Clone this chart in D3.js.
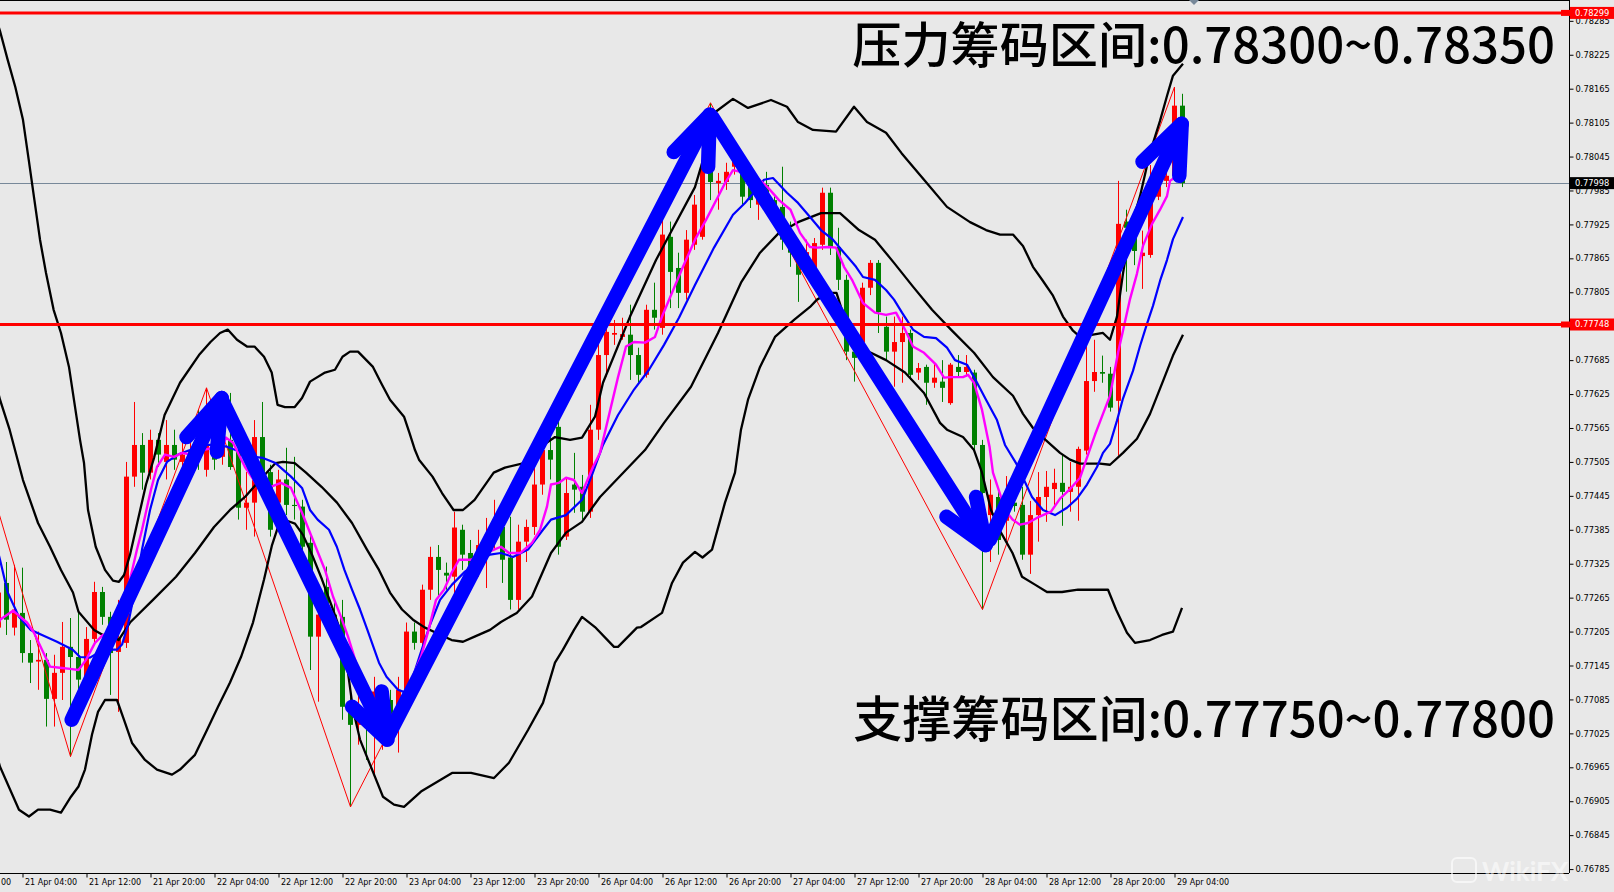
<!DOCTYPE html>
<html><head><meta charset="utf-8">
<script src="https://cdn.jsdelivr.net/npm/d3@7"></script>
<style>
html,body{margin:0;padding:0;background:#e8e8e8;overflow:hidden}
svg{display:block}
</style></head><body>
<svg id="c" width="1614" height="892"></svg>
<script>
// ---------------- DATA (H1 bars, bar index 0 = 21 Apr 04:00) ----------------
const firstBar = -3;
const opens = [
0.77212,0.77291,0.77212,0.77238,0.77167,0.77152,0.77155,0.77086,0.77132,0.77178,
0.77160,0.77120,0.77192,0.77275,0.77231,0.77169,0.77185,0.77479,0.77535,0.77486,
0.77544,0.77505,0.77535,0.77505,0.77512,0.77526,0.77491,0.77539,0.77514,0.77544,
0.77526,0.77424,0.77433,0.77549,0.77487,0.77433,0.77474,0.77429,0.77426,0.77362,
0.77196,0.77284,0.77235,0.77231,0.77075,0.77040,0.77067,0.77031,0.77049,0.77084,
0.77058,0.77102,0.77205,0.77185,0.77279,0.77337,0.77309,0.77302,0.77385,0.77344,
0.77314,0.77341,0.77367,0.77390,0.77336,0.77261,0.77364,0.77390,0.77465,0.77526,
0.77567,0.77373,0.77465,0.77461,0.77417,0.77562,0.77694,0.77730,0.77726,0.77730,
0.77694,0.77659,0.77774,0.77742,0.77903,0.77848,0.77804,0.77889,0.77903,0.78027,
0.77998,0.78000,0.78027,0.78016,0.78004,0.77960,0.77995,0.77968,0.77956,0.77910,
0.77875,0.77857,0.77848,0.77889,0.77981,0.77885,0.77827,0.77700,0.77716,0.77813,
0.77857,0.77744,0.77700,0.77717,0.77733,0.77663,0.77673,0.77645,0.77647,0.77609,
0.77673,0.77664,0.77663,0.77535,0.77411,0.77443,0.77401,0.77433,0.77429,0.77341,
0.77411,0.77443,0.77457,0.77468,0.77452,0.77461,0.77525,0.77648,0.77664,0.77661,
0.77613,0.77930,0.77926,0.77869,0.77871,0.77974,0.78002,0.78011,0.78135];
const highs = [
0.77288,0.77328,0.77323,0.77318,0.77190,0.77205,0.77167,0.77164,0.77222,0.77229,
0.77244,0.77213,0.77293,0.77284,0.77240,0.77261,0.77505,0.77611,0.77556,0.77562,
0.77556,0.77579,0.77562,0.77544,0.77562,0.77597,0.77636,0.77620,0.77562,0.77627,
0.77544,0.77487,0.77579,0.77611,0.77500,0.77491,0.77530,0.77514,0.77438,0.77376,
0.77261,0.77320,0.77261,0.77261,0.77102,0.77102,0.77084,0.77125,0.77102,0.77102,
0.77125,0.77221,0.77221,0.77288,0.77355,0.77358,0.77327,0.77417,0.77394,0.77367,
0.77385,0.77406,0.77438,0.77411,0.77408,0.77394,0.77403,0.77500,0.77544,0.77562,
0.77579,0.77477,0.77521,0.77482,0.77606,0.77726,0.77762,0.77756,0.77760,0.77783,
0.77707,0.77783,0.77822,0.77933,0.77930,0.77875,0.77915,0.77977,0.78057,0.78140,
0.78016,0.78034,0.78057,0.78039,0.78016,0.77981,0.78018,0.77977,0.78027,0.77930,
0.77898,0.77898,0.77901,0.77990,0.77990,0.77919,0.77836,0.77721,0.77822,0.77862,
0.77862,0.77762,0.77762,0.77762,0.77739,0.77680,0.77677,0.77680,0.77685,0.77680,
0.77694,0.77694,0.77668,0.77544,0.77474,0.77456,0.77480,0.77461,0.77461,0.77436,
0.77487,0.77489,0.77493,0.77518,0.77505,0.77532,0.77719,0.77721,0.77693,0.77673,
0.78002,0.77951,0.77951,0.77914,0.78030,0.78034,0.78071,0.78168,0.78156];
const lows = [
0.77205,0.77199,0.77198,0.77150,0.77114,0.77102,0.77037,0.77037,0.77084,0.76984,
0.77084,0.77102,0.77182,0.77217,0.77093,0.77063,0.77176,0.77461,0.77456,0.77474,
0.77496,0.77474,0.77491,0.77479,0.77491,0.77491,0.77479,0.77491,0.77500,0.77491,
0.77403,0.77385,0.77373,0.77474,0.77373,0.77420,0.77411,0.77403,0.77332,0.77137,
0.77081,0.77208,0.77190,0.77049,0.76895,0.77005,0.76978,0.76948,0.76996,0.77023,
0.76991,0.77084,0.77173,0.77173,0.77261,0.77267,0.77279,0.77261,0.77314,0.77288,
0.77302,0.77282,0.77350,0.77291,0.77244,0.77244,0.77328,0.77376,0.77447,0.77474,
0.77341,0.77367,0.77415,0.77403,0.77406,0.77544,0.77656,0.77712,0.77721,0.77650,
0.77645,0.77654,0.77739,0.77730,0.77777,0.77777,0.77792,0.77880,0.77898,0.77968,
0.77951,0.77986,0.78013,0.77960,0.77954,0.77933,0.77951,0.77924,0.77880,0.77850,
0.77788,0.77845,0.77827,0.77880,0.77871,0.77809,0.77685,0.77647,0.77703,0.77800,
0.77733,0.77685,0.77638,0.77645,0.77650,0.77650,0.77606,0.77636,0.77611,0.77606,
0.77656,0.77656,0.77526,0.77244,0.77328,0.77341,0.77367,0.77417,0.77332,0.77307,
0.77364,0.77399,0.77429,0.77392,0.77417,0.77401,0.77518,0.77629,0.77645,0.77594,
0.77516,0.77806,0.77853,0.77811,0.77866,0.77968,0.77991,0.78004,0.77991];
const closes = [
0.77274,0.77226,0.77244,0.77167,0.77150,0.77155,0.77086,0.77132,0.77178,0.77160,
0.77120,0.77192,0.77275,0.77231,0.77167,0.77194,0.77479,0.77535,0.77486,0.77544,
0.77518,0.77535,0.77509,0.77518,0.77526,0.77518,0.77535,0.77509,0.77533,0.77496,
0.77424,0.77433,0.77549,0.77487,0.77385,0.77474,0.77429,0.77427,0.77355,0.77196,
0.77235,0.77229,0.77226,0.77072,0.77040,0.77067,0.77035,0.77099,0.77084,0.77058,
0.77102,0.77205,0.77185,0.77279,0.77337,0.77314,0.77304,0.77389,0.77341,0.77314,
0.77358,0.77376,0.77403,0.77332,0.77261,0.77364,0.77390,0.77465,0.77526,0.77509,
0.77355,0.77450,0.77456,0.77417,0.77562,0.77694,0.77735,0.77733,0.77731,0.77694,
0.77659,0.77774,0.77760,0.77907,0.77841,0.77804,0.77898,0.77960,0.78027,0.78000,
0.78002,0.78018,0.78044,0.77974,0.77968,0.77970,0.77968,0.77933,0.77898,0.77875,
0.77836,0.77876,0.77892,0.77981,0.77885,0.77827,0.77700,0.77689,0.77813,0.77857,
0.77770,0.77700,0.77717,0.77733,0.77659,0.77671,0.77645,0.77654,0.77636,0.77677,
0.77664,0.77673,0.77535,0.77450,0.77447,0.77367,0.77417,0.77427,0.77341,0.77411,
0.77443,0.77461,0.77468,0.77452,0.77461,0.77528,0.77648,0.77664,0.77661,0.77601,
0.77926,0.77919,0.77878,0.77875,0.77967,0.78004,0.78011,0.78135,0.77998];

// Bollinger bands (black): [barIndex, price]
const upperBand = [[-3.06,0.78278],[-2.81,0.78267],[-1.85,0.78216],[-0.9,0.78168],[0.06,0.78110],[0.78,0.78039],[1.49,0.77968],[2.19,0.77898],[2.94,0.77839],[3.89,0.77774],[4.81,0.77733],[5.81,0.77673],[6.75,0.77585],[7.19,0.77544],[7.69,0.77503],[8.19,0.77420],[9.15,0.77355],[10.31,0.77314],[11.31,0.77295],[12.06,0.77293],[12.69,0.77305],[13.44,0.77341],[14.44,0.77403],[15.44,0.77465],[16.44,0.77512],[17.76,0.77588],[19.69,0.77645],[22.06,0.77694],[23.5,0.77717],[24.69,0.77733],[25.65,0.77739],[26.81,0.77721],[28.06,0.77709],[29,0.77709],[30.19,0.77691],[31.15,0.77663],[31.88,0.77606],[32.81,0.77602],[34.03,0.77602],[34.94,0.77618],[35.94,0.77647],[37.81,0.77663],[39.06,0.77668],[40,0.77691],[40.94,0.77700],[41.94,0.77700],[43.81,0.77673],[44.81,0.77645],[45.94,0.77615],[47.69,0.77585],[48.38,0.77556],[49.06,0.77526],[49.56,0.77509],[51.25,0.77479],[52.44,0.77450],[53.88,0.77420],[55.06,0.77420],[56.51,0.77438],[58.9,0.77486],[60.31,0.77495],[62.69,0.77503],[64.19,0.77526],[66.56,0.77549],[68.44,0.77544],[69.94,0.77548],[71.56,0.77585],[72.56,0.77645],[75.94,0.77762],[79.19,0.77862],[81.19,0.77915],[84.06,0.77991],[85.44,0.78057],[86.44,0.78122],[88.81,0.78147],[90.69,0.78131],[93.56,0.78145],[95.56,0.78133],[96.94,0.78106],[98.81,0.78092],[101.69,0.78089],[103.94,0.78133],[105.56,0.78106],[107.94,0.78087],[109.88,0.78051],[112.69,0.78004],[115.56,0.77956],[118.44,0.77929],[120.44,0.77915],[122.19,0.77907],[123.81,0.77907],[125.06,0.77887],[126.31,0.77850],[127.56,0.77825],[128.81,0.77799],[130.06,0.77762],[131.31,0.77737],[132.19,0.77726],[133.81,0.77730],[135.06,0.77733],[135.94,0.77721],[136.81,0.77762],[137.56,0.77838],[138.44,0.77914],[139.69,0.77975],[140.94,0.78052],[142.19,0.78108],[143.06,0.78152],[143.81,0.78188],[145.06,0.78209]];
const middleBand = [[-3.06,0.77629],[-2.81,0.77615],[-1.61,0.77562],[0.06,0.77473],[1.94,0.77397],[3.44,0.77355],[4.81,0.77314],[6.31,0.77274],[7,0.77240],[8.94,0.77208],[10.06,0.77199],[11.56,0.77194],[12.01,0.77190],[13.44,0.77221],[16.31,0.77261],[19.19,0.77302],[21.56,0.77344],[23.94,0.77390],[25.94,0.77420],[27.81,0.77443],[29.69,0.77473],[31.63,0.77503],[32.56,0.77505],[34.03,0.77503],[35.44,0.77486],[37.38,0.77461],[39.31,0.77433],[41.19,0.77397],[43.06,0.77350],[44.56,0.77314],[45.94,0.77274],[47.44,0.77244],[48.81,0.77226],[50.31,0.77212],[51.69,0.77203],[53.64,0.77190],[55.06,0.77187],[56.51,0.77196],[58.44,0.77208],[59.81,0.77222],[61.78,0.77238],[63.69,0.77267],[66.06,0.77344],[67.94,0.77380],[69.94,0.77399],[71.31,0.77426],[72.19,0.77443],[77.81,0.77526],[80.19,0.77574],[83.56,0.77638],[86.94,0.77733],[89.81,0.77822],[92.19,0.77875],[94.56,0.77910],[96.94,0.77929],[99.81,0.77945],[102.19,0.77945],[104.56,0.77915],[106.56,0.77898],[108.94,0.77857],[111.31,0.77815],[113.69,0.77774],[116.06,0.77739],[118.94,0.77698],[121.31,0.77655],[123.81,0.77622],[125.06,0.77590],[126.31,0.77565],[127.56,0.77548],[129.69,0.77521],[130.94,0.77509],[132.19,0.77502],[134.69,0.77502],[135.94,0.77500],[137.56,0.77521],[139.31,0.77546],[140.94,0.77590],[142.56,0.77648],[143.81,0.77693],[145.06,0.77730]];
const lowerBand = [[-3.06,0.76978],[-2.81,0.76966],[-0.44,0.76890],[0.81,0.76878],[1.94,0.76890],[3.44,0.76890],[4.81,0.76885],[6.06,0.76913],[7,0.76931],[7.81,0.76961],[8.69,0.77023],[9.44,0.77063],[10.31,0.77084],[11.81,0.77084],[12.69,0.77049],[13.69,0.77008],[15.31,0.76978],[16.81,0.76961],[18.69,0.76952],[19.69,0.76961],[21.56,0.76987],[23.06,0.77031],[24.44,0.77072],[25.94,0.77115],[27.31,0.77160],[28.81,0.77221],[30.19,0.77297],[31.19,0.77358],[31.94,0.77390],[33.06,0.77401],[34.06,0.77396],[35.06,0.77376],[36.19,0.77341],[37.44,0.77297],[38.81,0.77244],[39.69,0.77208],[40.56,0.77146],[41.31,0.77067],[42.19,0.77014],[44.06,0.76948],[45.06,0.76913],[46.44,0.76899],[47.69,0.76895],[49.81,0.76922],[53.69,0.76955],[56.06,0.76955],[58.94,0.76946],[60.81,0.76973],[63.19,0.77031],[65.06,0.77079],[66.56,0.77150],[67.56,0.77173],[68.94,0.77208],[69.94,0.77231],[71.56,0.77213],[73.94,0.77178],[74.44,0.77178],[76.81,0.77212],[77.31,0.77213],[79.94,0.77238],[81.19,0.77291],[82.56,0.77327],[84.06,0.77346],[85,0.77336],[86.19,0.77350],[87.81,0.77433],[89.06,0.77486],[89.81,0.77562],[90.69,0.77615],[92.19,0.77673],[94.06,0.77726],[96.44,0.77756],[98.44,0.77779],[99.31,0.77792],[100.81,0.77804],[101.75,0.77804],[102.69,0.77762],[104.13,0.77709],[106.06,0.77698],[107.94,0.77685],[110.31,0.77663],[112.69,0.77627],[114.69,0.77574],[115.56,0.77562],[117.56,0.77549],[118.94,0.77526],[119.94,0.77486],[121.06,0.77420],[122.31,0.77380],[123.75,0.77344],[124.94,0.77302],[126.56,0.77288],[128.06,0.77275],[129.94,0.77275],[131.94,0.77279],[135.69,0.77279],[136.69,0.77244],[138.06,0.77203],[139.06,0.77185],[140.94,0.77190],[142.44,0.77199],[143.81,0.77205],[144.94,0.77247]];
// moving averages: magenta (fast) and blue (slow)
const maFast = [[-3.06,0.77217],[-2.81,0.77226],[-1.19,0.77242],[0.56,0.77221],[1.44,0.77203],[2.44,0.77173],[3.44,0.77143],[4.69,0.77141],[5.94,0.77139],[7,0.77137],[7.94,0.77155],[9.06,0.77185],[10.06,0.77199],[11.31,0.77196],[12.5,0.77231],[13.44,0.77297],[14.31,0.77350],[14.94,0.77385],[16.06,0.77456],[16.81,0.77496],[17.81,0.77518],[18.94,0.77514],[19.94,0.77521],[21.06,0.77518],[22.56,0.77526],[23.81,0.77530],[24.94,0.77530],[25.44,0.77548],[26.31,0.77539],[27.81,0.77496],[29.06,0.77470],[30.69,0.77459],[32.31,0.77468],[33.56,0.77459],[34.94,0.77415],[36.44,0.77362],[37.81,0.77314],[38.81,0.77267],[39.81,0.77231],[40.69,0.77196],[41.69,0.77150],[42.69,0.77097],[43.56,0.77049],[44.69,0.77040],[45.94,0.77053],[46.94,0.77070],[47.9,0.77090],[48.81,0.77125],[49.81,0.77160],[50.76,0.77208],[51.69,0.77261],[52.69,0.77279],[53.64,0.77309],[54.56,0.77332],[56.06,0.77332],[57.44,0.77341],[58.94,0.77350],[59.81,0.77355],[60.81,0.77344],[62.25,0.77344],[63.69,0.77362],[64.69,0.77385],[65.56,0.77426],[66.06,0.77465],[67.06,0.77468],[67.94,0.77477],[68.94,0.77473],[69.94,0.77450],[71.31,0.77496],[72.19,0.77521],[74.44,0.77655],[75.44,0.77709],[76.44,0.77717],[77.81,0.77716],[79.06,0.77726],[79.94,0.77762],[81.19,0.77804],[82.56,0.77850],[84.06,0.77898],[85.44,0.77933],[86.94,0.77974],[87.81,0.77998],[88.81,0.78021],[90.31,0.78016],[91.69,0.78009],[93.13,0.77991],[94.56,0.77968],[96,0.77951],[97.19,0.77910],[98.44,0.77885],[99.31,0.77884],[100.81,0.77885],[101.69,0.77884],[102.69,0.77850],[103.69,0.77827],[105.06,0.77786],[106.56,0.77769],[107.94,0.77765],[109.19,0.77769],[110.31,0.77739],[111.31,0.77709],[112.69,0.77698],[114.19,0.77677],[115.19,0.77654],[116.06,0.77655],[117.56,0.77655],[118.19,0.77659],[118.94,0.77645],[119.94,0.77597],[120.88,0.77532],[121.31,0.77486],[122.31,0.77443],[122.81,0.77420],[123.75,0.77403],[124.69,0.77394],[125.69,0.77397],[127.06,0.77408],[128.56,0.77417],[129.69,0.77440],[130.94,0.77457],[132.19,0.77477],[133.19,0.77518],[134.06,0.77553],[135.06,0.77590],[135.94,0.77622],[136.94,0.77698],[137.56,0.77737],[138.44,0.77793],[139.31,0.77838],[140.06,0.77887],[141.19,0.77926],[142.19,0.77951],[143.06,0.77975],[143.44,0.78002],[143.94,0.78007],[145,0.78016]];
const maSlow = [[-3.06,0.77346],[-2.81,0.77332],[-1.85,0.77274],[-0.44,0.77231],[1.01,0.77208],[2.44,0.77199],[4.31,0.77187],[6.28,0.77173],[7.19,0.77160],[8.44,0.77159],[9.63,0.77169],[11.06,0.77173],[11.81,0.77173],[12.44,0.77182],[13.19,0.77217],[14.06,0.77279],[14.94,0.77350],[15.94,0.77420],[16.94,0.77473],[18.06,0.77505],[19.44,0.77518],[20.94,0.77526],[22.19,0.77535],[24.06,0.77535],[25.56,0.77532],[27.19,0.77523],[28.81,0.77514],[30.06,0.77512],[31.63,0.77503],[33.56,0.77479],[34.94,0.77459],[35.94,0.77420],[36.89,0.77403],[38.31,0.77385],[39.29,0.77355],[40.24,0.77314],[41.19,0.77279],[42.19,0.77244],[43.11,0.77208],[44.56,0.77150],[45.5,0.77125],[46.94,0.77102],[47.9,0.77097],[48.69,0.77120],[49.69,0.77164],[50.94,0.77217],[52.19,0.77261],[53.69,0.77288],[55.31,0.77311],[56.94,0.77328],[58.44,0.77341],[59.81,0.77344],[61.31,0.77337],[63.19,0.77350],[65.06,0.77385],[66.06,0.77403],[67.94,0.77411],[69.94,0.77438],[71.19,0.77482],[72.56,0.77535],[74.44,0.77588],[76.44,0.77633],[78.31,0.77668],[80.19,0.77712],[82.06,0.77760],[84.06,0.77818],[86.44,0.77884],[88.81,0.77942],[90.31,0.77963],[91.69,0.77986],[92.69,0.78004],[93.81,0.78007],[95.56,0.77981],[96.94,0.77963],[98.44,0.77938],[99.81,0.77915],[101.31,0.77898],[102.69,0.77875],[104.19,0.77850],[105.06,0.77832],[106.56,0.77827],[107.94,0.77809],[108.94,0.77792],[109.94,0.77769],[111.31,0.77739],[112.69,0.77726],[114.19,0.77724],[115.56,0.77707],[116.56,0.77685],[118.06,0.77677],[118.94,0.77655],[120.44,0.77615],[121.81,0.77579],[122.81,0.77535],[124.19,0.77503],[125.19,0.77473],[126.19,0.77443],[127.56,0.77420],[129.06,0.77411],[130.56,0.77424],[131.81,0.77440],[133.06,0.77465],[134.31,0.77496],[135.06,0.77521],[135.94,0.77537],[136.81,0.77578],[137.56,0.77617],[138.81,0.77666],[139.69,0.77710],[140.56,0.77749],[141.31,0.77781],[142.19,0.77825],[143.06,0.77862],[143.81,0.77899],[145.06,0.77938]];
// ZigZag pivots
const zigzag = [[-5,0.77513],[6,0.76984],[23,0.77636],[41,0.76895],[86,0.78140],[120,0.77244],[144,0.78168]];
// hand-drawn trend arrows: shaft [from, to] and head [wing, tip, wing]
const arrowShafts = [
 [[6.15,0.77049],[24.9,0.77618]],
 [[24.9,0.77615],[45.6,0.77014]],
 [[45.8,0.77023],[85.9,0.78119]],
 [[86.2,0.78115],[120.4,0.77358]],
 [[120.9,0.77367],[144.9,0.78103]]];
const arrowHeads = [
 [[20.5,0.77549],[24.9,0.77618],[24.3,0.77523]],
 [[41.2,0.77072],[45.6,0.77014],[44.9,0.77099]],
 [[81.4,0.78053],[85.9,0.78119],[85.7,0.78027]],
 [[115.5,0.77408],[120.4,0.77358],[119.2,0.77443]],
 [[140.0,0.78036],[144.9,0.78103],[144.6,0.78011]]];
// horizontal levels
const resistanceLine = 0.78299;
const supportLine = 0.77748;
const bidPrice = 0.77998;
// axis ticks
const priceTicks = [0.78285,0.78225,0.78165,0.78105,0.78045,0.77985,0.77925,0.77865,0.77805,0.77745,0.77685,0.77625,0.77565,0.77505,0.77445,0.77385,0.77325,0.77265,0.77205,0.77145,0.77085,0.77025,0.76965,0.76905,0.76845,0.76785];
const timeTickBars = [0,8,16,24,32,40,48,56,64,72,80,88,96,104,112,120,128,136,144];
const timeLabels = ["21 Apr 04:00","21 Apr 12:00","21 Apr 20:00","22 Apr 04:00","22 Apr 12:00","22 Apr 20:00","23 Apr 04:00","23 Apr 12:00","23 Apr 20:00","26 Apr 04:00","26 Apr 12:00","26 Apr 20:00","27 Apr 04:00","27 Apr 12:00","27 Apr 20:00","28 Apr 04:00","28 Apr 12:00","28 Apr 20:00","29 Apr 04:00"];
const leftCutLabel = "00"; // visible tail of the previous time label at the left edge
const titleTop = "压力筹码区间:0.78300~0.78350";
const titleBottom = "支撑筹码区间:0.77750~0.77800";

// ---------------- DRAWING ----------------
const W = 1614, H = 892, plotR = 1569, plotB = 873;
const svg = d3.select('#c');
svg.append('rect').attr('width', W).attr('height', H).attr('fill', '#e8e8e8');

const x = d3.scaleLinear().domain([0, 145]).range([22.5, 1182.5]);
const y = d3.scaleLinear().domain([0.77, 0.78]).range([747.5, 182]);

svg.append('defs').append('clipPath').attr('id', 'plot')
  .append('rect').attr('x', 0).attr('y', 0).attr('width', plotR).attr('height', plotB);
const g = svg.append('g').attr('clip-path', 'url(#plot)');

// bid line
g.append('line').attr('x1', 0).attr('x2', plotR)
  .attr('y1', Math.round(y(bidPrice)) + 0.5).attr('y2', Math.round(y(bidPrice)) + 0.5)
  .attr('stroke', '#778899').attr('stroke-width', 1);

// candles
const bars = opens.map((o, k) => ({ i: firstBar + k, o, h: highs[k], l: lows[k], c: closes[k] }));
const col = d => d.c >= d.o ? '#ff0000' : '#008000';
const cg = g.append('g');
cg.selectAll('line').data(bars).join('line')
  .attr('x1', d => Math.floor(x(d.i)) + 0.5).attr('x2', d => Math.floor(x(d.i)) + 0.5)
  .attr('y1', d => y(d.h)).attr('y2', d => y(d.l))
  .attr('stroke', col).attr('stroke-width', 1);
cg.selectAll('rect').data(bars).join('rect')
  .attr('x', d => Math.floor(x(d.i)) - 2).attr('width', 5)
  .attr('y', d => y(Math.max(d.o, d.c)))
  .attr('height', d => Math.max(1, y(Math.min(d.o, d.c)) - y(Math.max(d.o, d.c))))
  .attr('fill', col);

const line = d3.line().x(d => x(d[0])).y(d => y(d[1]));
// zigzag
g.append('path').attr('d', line(zigzag)).attr('fill', 'none').attr('stroke', '#ff0000').attr('stroke-width', 1);
// bands
[upperBand, middleBand, lowerBand].forEach(b =>
  g.append('path').attr('d', line(b)).attr('fill', 'none').attr('stroke', '#000')
    .attr('stroke-width', 2.3).attr('stroke-linejoin', 'round'));
// MAs
g.append('path').attr('d', line(maSlow)).attr('fill', 'none').attr('stroke', '#0000ff').attr('stroke-width', 2.2).attr('stroke-linejoin', 'round');
g.append('path').attr('d', line(maFast)).attr('fill', 'none').attr('stroke', '#ff00ff').attr('stroke-width', 2.4).attr('stroke-linejoin', 'round');

// red level lines
[resistanceLine, supportLine].forEach(p =>
  g.append('line').attr('x1', 0).attr('x2', plotR).attr('y1', y(p)).attr('y2', y(p))
    .attr('stroke', '#ff0000').attr('stroke-width', 3));

// arrows
const ag = g.append('g').attr('fill', 'none').attr('stroke', '#0000ff').attr('stroke-width', 14.5)
  .attr('stroke-linecap', 'round').attr('stroke-linejoin', 'round');
arrowShafts.forEach(s => ag.append('path').attr('d', line(s)));
arrowHeads.forEach(h => ag.append('path').attr('d', line(h)));

// frame
svg.append('line').attr('x1', 0).attr('x2', plotR).attr('y1', 0.5).attr('y2', 0.5).attr('stroke', '#000');
svg.append('polygon').attr('points', '1189,0 1199,0 1194,5').attr('fill', '#778899');

// price axis
const ya = svg.append('g').attr('transform', `translate(${plotR + 0.5},0)`)
  .call(d3.axisRight(y).tickValues(priceTicks).tickSize(4).tickPadding(2).tickFormat(d3.format('.5f')));
ya.select('.domain').attr('d', `M0,0V${plotB}`).attr('stroke', '#000');
ya.selectAll('text').attr('font-family', 'DejaVu Sans').attr('font-size', 8.3).attr('fill', '#000');
ya.selectAll('line').attr('stroke', '#000');

// time axis
const xa = svg.append('g').attr('transform', `translate(0,${plotB + 0.5})`)
  .call(d3.axisBottom(x).tickValues(timeTickBars).tickSize(4).tickFormat((d, k) => timeLabels[k]));
xa.select('.domain').attr('d', `M0,0H${plotR}`).attr('stroke', '#000');
xa.selectAll('line').attr('stroke', '#000');
xa.selectAll('text').attr('font-family', 'DejaVu Sans').attr('font-size', 8).attr('fill', '#000')
  .attr('text-anchor', 'start').attr('x', 2).attr('y', 6).attr('dy', '0.71em');
svg.append('text').attr('x', 1).attr('y', plotB + 6.5).attr('dy', '0.71em')
  .attr('font-family', 'DejaVu Sans').attr('font-size', 8).attr('fill', '#000').text(leftCutLabel);

// level labels on the price axis
function levelLabel(p, fill, tab) {
  const yy = y(p);
  if (tab) svg.append('rect').attr('x', 1561).attr('y', yy - 3).attr('width', 10).attr('height', 6).attr('fill', fill);
  svg.append('rect').attr('x', 1570).attr('y', yy - 6).attr('width', 44).attr('height', 12).attr('fill', fill);
  svg.append('text').attr('x', 1575).attr('y', yy).attr('dy', '0.35em')
    .attr('font-family', 'DejaVu Sans').attr('font-size', 8.3).attr('fill', '#fff').text(p.toFixed(5));
}
levelLabel(resistanceLine, '#ff0000', true);
levelLabel(supportLine, '#ff0000', true);
levelLabel(bidPrice, '#000000', false);

// annotation texts
function bigText(str, yBase, targetW) {
  const t = svg.append('text').attr('x', 1555).attr('y', yBase).attr('text-anchor', 'end')
    .attr('font-family', "'Noto Sans CJK SC','Noto Sans CJK JP',sans-serif").attr('font-size', 48)
    .attr('font-weight', 500).attr('fill', '#000').text(str);
  const w = t.node().getComputedTextLength();
  if (w > 0) t.attr('font-size', 48 * targetW / w);
  return t;
}
bigText(titleTop, 63, 703);
bigText(titleBottom, 737, 702);

// watermark
svg.append('rect').attr('x', 1452).attr('y', 858).attr('width', 24).attr('height', 24).attr('rx', 5)
  .attr('fill', 'none').attr('stroke', '#ffffff').attr('stroke-opacity', 0.6).attr('stroke-width', 2);
svg.append('text').attr('x', 1482).attr('y', 881).attr('font-family', 'Lato').attr('font-weight', 'bold')
  .attr('font-size', 26).attr('fill', '#ffffff').attr('fill-opacity', 0.55).text('WikiFX');
</script>
</body></html>
